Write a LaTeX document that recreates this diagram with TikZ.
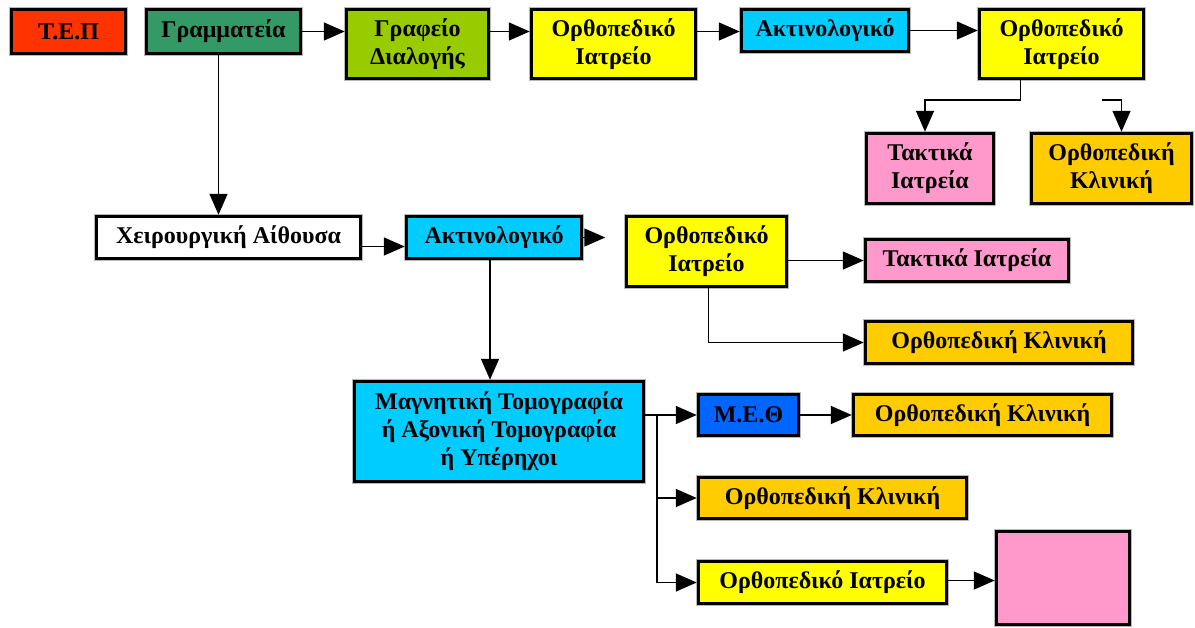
\documentclass[tikz,border=0pt]{standalone}
\usepackage{fontspec}
\setmainfont{Liberation Serif}
\usetikzlibrary{arrows.meta,calc}
\definecolor{tepred}{HTML}{FF3300}
\definecolor{secgreen}{HTML}{339966}
\definecolor{limegreen}{HTML}{99CC00}
\definecolor{ortho}{HTML}{FFFF00}
\definecolor{xray}{HTML}{00CCFF}
\definecolor{clinic}{HTML}{FFCC00}
\definecolor{outpat}{HTML}{FF99CC}
\definecolor{icu}{HTML}{0066FF}
\begin{document}
\begin{tikzpicture}[x=1pt,y=-1pt,
  box/.style={draw=black, line width=3.5pt,
    preaction={draw=gray!55, line width=5pt},
    font=\bfseries\fontsize{24}{28}\selectfont, align=center, inner sep=0pt},
  link/.style={line width=1.6pt, -{Triangle[length=21pt,width=18pt]}},
  wire/.style={line width=1.6pt}]
\useasboundingbox[fill=white] (0,0) rectangle (1195,627);

% top row
\node[box, fill=tepred,    minimum width=114, minimum height=44] (tep)   at (68.5,31.5) {Τ.Ε.Π};
\node[box, fill=secgreen,  minimum width=154, minimum height=44] (gram)  at (223.5,31.5) {Γραμματεία};
\node[box, fill=limegreen, minimum width=142, minimum height=69] (graf)  at (417.5,44) {Γραφείο\\Διαλογής};
\node[box, fill=ortho,     minimum width=164, minimum height=69] (orthA) at (613.5,44) {Ορθοπεδικό\\Ιατρείο};
\node[box, fill=xray,      minimum width=167, minimum height=42] (aktA)  at (825,30.5) {Ακτινολογικό};
\node[box, fill=ortho,     minimum width=164, minimum height=69] (orthB) at (1061.5,44) {Ορθοπεδικό\\Ιατρείο};
\node[box, fill=outpat,    minimum width=127, minimum height=70] (taktA) at (930,168.5) {Τακτικά\\Ιατρεία};
\node[box, fill=clinic,    minimum width=160, minimum height=70] (klinA) at (1111.5,168.5) {Ορθοπεδική\\Κλινική};

% middle row
\node[box, fill=white,  minimum width=264, minimum height=42] (xeir)  at (228.5,237.5) {Χειρουργική Αίθουσα};
\node[box, fill=xray,   minimum width=175, minimum height=42] (aktB)  at (494,237.5) {Ακτινολογικό};
\node[box, fill=ortho,  minimum width=160, minimum height=70] (orthC) at (706.5,251.5) {Ορθοπεδικό\\Ιατρείο};
\node[box, fill=outpat, minimum width=203, minimum height=42] (taktB) at (967,260.5) {Τακτικά Ιατρεία};
\node[box, fill=clinic, minimum width=267, minimum height=42] (klinB) at (999,342.5) {Ορθοπεδική Κλινική};

% imaging branch
\node[box, fill=xray,   minimum width=289, minimum height=100] (magn)  at (499,431.5) {Μαγνητική Τομογραφία\\ή Αξονική Τομογραφία\\ή Υπέρηχοι};
\node[box, fill=icu,    minimum width=100, minimum height=41] (meth)  at (748.5,415) {Μ.Ε.Θ};
\node[box, fill=clinic, minimum width=258, minimum height=41] (klinC) at (982.5,415) {Ορθοπεδική Κλινική};
\node[box, fill=clinic, minimum width=268, minimum height=41] (klinD) at (832.5,498) {Ορθοπεδική Κλινική};
\node[box, fill=ortho,  minimum width=248, minimum height=42] (orthD) at (822.5,582.5) {Ορθοπεδικό Ιατρείο};
\node[box, fill=outpat, minimum width=133, minimum height=93] (blank) at (1063,578) {};

% connectors, top row
\draw[link] (gram.east) -- (graf.west |- gram.east);
\draw[link] (graf.east |- gram.east) -- (orthA.west |- gram.east);
\draw[link] (orthA.east |- gram.east) -- (aktA.west |- gram.east);
\draw[link] (aktA.east) -- (orthB.west |- aktA.east);
\draw[link] ([xshift=-41pt]orthB.south) -- ++(0,20) -| ([xshift=-5pt]taktA.north);
\coordinate (kstub) at (1102,100);
\draw[link] (kstub) -| ([xshift=10pt]klinA.north);

% connectors, middle row
\draw[link] ([xshift=-5pt]gram.south) -- ([xshift=-5pt]gram.south |- xeir.north);
\draw[link] ([yshift=-9pt]xeir.east) -- ([yshift=-9pt]aktB.west);
\coordinate (aktBtip) at ($(aktB.east)+(22,0)$);
\draw[link] (aktB.east) -- (aktBtip);
\draw[link] ([xshift=-4pt]aktB.south) -- ([xshift=-4pt]aktB.south |- magn.north);
\draw[link] (orthC.east |- taktB.west) -- (taktB.west);
\draw[link] ([xshift=2pt]orthC.south) |- (klinB.west);

% connectors, imaging branch
\coordinate (fork) at ($(magn.east |- meth.west)+(12,0)$);
\draw[link] (magn.east |- meth.west) -- (meth.west);
\draw[wire] (fork) -- (fork |- orthD.west);
\draw[link] (fork |- klinD.west) -- (klinD.west);
\draw[link] (fork |- orthD.west) -- (orthD.west);
\draw[link] (meth.east) -- (klinC.west);
\draw[link] ([yshift=2pt]orthD.east) -- ([yshift=2pt]orthD.east -| blank.west);
\end{tikzpicture}
\end{document}
